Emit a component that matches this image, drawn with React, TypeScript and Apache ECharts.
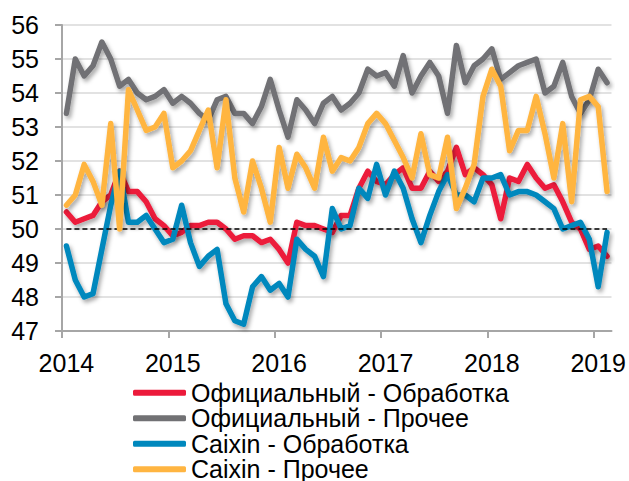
import React, { useEffect, useRef } from "react";
import * as echarts from "echarts";

const startYear = 2014;
const yearTickMonths = [0, 12, 24, 36, 48, 60];
const yearLabelMonths = [0.5, 12.5, 24.5, 36.5, 48.5, 60.5];
const totalMonths = 62;

const seriesNames = [
  "Официальный - Обработка",
  "Официальный - Прочее",
  "Caixin - Обработка",
  "Caixin - Прочее",
];

const officialMfg = [
  50.5, 50.2, 50.3, 50.4, 50.8, 51.0, 51.7, 51.1, 51.1, 50.8, 50.3, 50.1,
  49.8, 49.9, 50.1, 50.1, 50.2, 50.2, 50.0, 49.7, 49.8, 49.8, 49.6, 49.7,
  49.4, 49.0, 50.2, 50.1, 50.1, 50.0, 49.9, 50.4, 50.4, 51.2, 51.7, 51.4,
  51.3, 51.6, 51.8, 51.2, 51.2, 51.7, 51.4, 51.7, 52.4, 51.6, 51.8, 51.6,
  51.3, 50.3, 51.5, 51.4, 51.9, 51.5, 51.2, 51.3, 50.8, 50.2, 50.0, 49.4,
  49.5, 49.2,
];

const officialOther = [
  53.4, 55.0, 54.5, 54.8, 55.5, 55.0, 54.2, 54.4, 54.0, 53.8, 53.9, 54.1,
  53.7, 53.9, 53.7, 53.4, 53.2, 53.8, 53.9, 53.4, 53.4, 53.1, 53.6, 54.4,
  53.5, 52.7, 53.8, 53.5, 53.1, 53.7, 53.9, 53.5, 53.7, 54.0, 54.7, 54.5,
  54.6, 54.2, 55.1, 54.0, 54.5, 54.9, 54.5, 53.4, 55.4, 54.3, 54.8, 55.0,
  55.3, 54.4, 54.6, 54.8, 54.9, 55.0, 54.0, 54.2, 54.9, 53.9, 53.4, 53.8,
  54.7, 54.3,
];

const caixinMfg = [
  49.5, 48.5, 48.0, 48.1, 49.4, 50.7, 51.7, 50.2, 50.2, 50.4, 50.0, 49.6,
  49.7, 50.7, 49.6, 48.9, 49.2, 49.4, 47.8, 47.3, 47.2, 48.3, 48.6, 48.2,
  48.4, 48.0, 49.7, 49.4, 49.2, 48.6, 50.6, 50.0, 50.1, 51.2, 50.9, 51.9,
  51.0, 51.7, 51.2, 50.3, 49.6, 50.4, 51.1, 51.6, 51.0, 51.0, 50.8, 51.5,
  51.5, 51.6, 51.0, 51.1, 51.1, 51.0, 50.8, 50.6, 50.0, 50.1, 50.2, 49.7,
  48.3, 49.9,
];

const caixinOther = [
  50.7, 51.0, 51.9, 51.4, 50.7, 53.1, 50.0, 54.1, 53.5, 52.9, 53.0, 53.4,
  51.8, 52.0, 52.3, 52.9, 53.5, 51.8, 53.8, 51.5, 50.5, 52.0, 51.2, 50.2,
  52.4, 51.2, 52.2, 51.8, 51.2, 52.7, 51.7, 52.1, 52.0, 52.4, 53.1, 53.4,
  53.1, 52.6, 52.1, 51.5, 52.8, 51.6, 51.5, 52.7, 50.6, 51.2, 51.9, 53.9,
  54.7, 54.2, 52.3, 52.9, 52.9, 53.9, 52.8, 51.5, 53.1, 50.8, 53.8, 53.9,
  53.6, 51.1,
];

const referenceLevel = 50;

const colors = ["#EC1A3B", "#717174", "#0088BD", "#FFB541"];
const FONT = "'Liberation Sans', Arial, sans-serif";

export default function App() {
  const ref = useRef<HTMLDivElement>(null);

  useEffect(() => {
    document.body.style.margin = "0";
    const chart = echarts.init(ref.current as HTMLDivElement, null, {
      renderer: "svg",
    });
    const toPoints = (arr: number[]) => arr.map((v, i) => [i + 0.5, v]);
    const allData = [officialMfg, officialOther, caixinMfg, caixinOther];

    const series: any[] = allData.map((arr, k) => ({
      name: seriesNames[k],
      type: "line",
      data: toPoints(arr),
      showSymbol: false,
      symbol: "none",
      color: colors[k],
      z: 2 + k,
      lineStyle: {
        color: colors[k],
        width: 5.5,
        shadowColor: "rgba(0,0,0,0.35)",
        shadowBlur: 4,
        shadowOffsetX: 2,
        shadowOffsetY: 3,
        join: "round",
        cap: "round",
      },
    }));

    series.push({
      name: "ref",
      type: "line",
      data: [],
      z: 10,
      markLine: {
        silent: true,
        symbol: ["none", "none"],
        label: { show: false },
        lineStyle: {
          color: "#000",
          type: [5, 3],
          width: 1.5,
          shadowBlur: 0,
          shadowColor: "transparent",
        },
        data: [
          [
            { coord: [0.5, referenceLevel] },
            { coord: [totalMonths - 0.5, referenceLevel] },
          ],
        ],
      },
    });

    chart.setOption({
      animation: false,
      backgroundColor: "#fff",
      grid: { left: 62, right: 17, top: 25, bottom: 150, containLabel: false },
      legend: {
        data: seriesNames,
        orient: "vertical",
        left: 133,
        top: 380,
        height: 140,
        padding: 0,
        itemWidth: 53,
        itemHeight: 6,
        itemGap: 0,
        icon: "roundRect",
        textStyle: { fontSize: 25, color: "#000", fontFamily: FONT, lineHeight: 25.5 },
      },
      xAxis: {
        type: "value",
        min: 0,
        max: totalMonths,
        interval: 12,
        axisLine: { show: true, lineStyle: { color: "#A6A6A6", width: 2 } },
        axisTick: {
          show: true,
          length: 7,
          customValues: yearTickMonths,
          lineStyle: { color: "#A6A6A6", width: 2 },
        },
        axisLabel: {
          customValues: yearLabelMonths,
          formatter: (v: number) => String(startYear + Math.floor(v / 12)),
          fontSize: 25,
          color: "#000",
          fontFamily: FONT,
          margin: 19,
        },
        splitLine: { show: false },
      },
      yAxis: {
        type: "value",
        min: 47,
        max: 56,
        interval: 1,
        axisLine: { show: true, lineStyle: { color: "#A6A6A6", width: 2 } },
        axisTick: { show: true, length: 7, lineStyle: { color: "#A6A6A6", width: 2 } },
        axisLabel: {
          fontSize: 25,
          color: "#000",
          fontFamily: FONT,
          margin: 23,
        },
        splitLine: { show: true, lineStyle: { color: "#D9D9D9", width: 1.5 } },
      },
      series,
    });
    return () => chart.dispose();
  }, []);

  return <div ref={ref} style={{ width: 629, height: 481 }} />;
}
